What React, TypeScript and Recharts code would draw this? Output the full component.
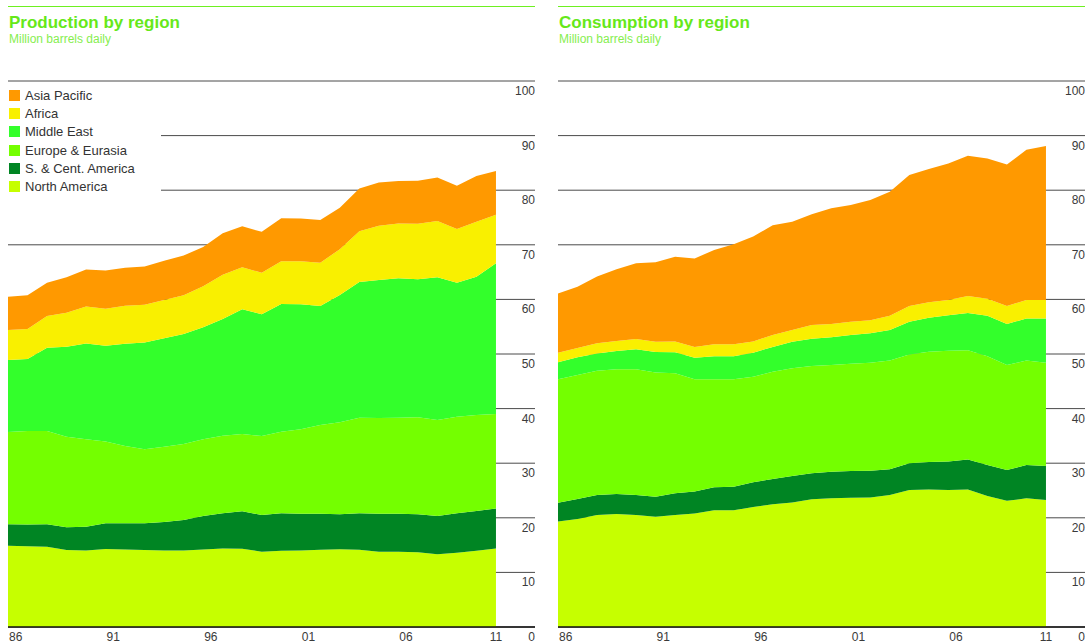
import {
  Area,
  AreaChart,
  CartesianGrid,
  Legend,
  XAxis,
  YAxis,
} from "recharts";

// years on the x axis
const years = [
  1986, 1987, 1988, 1989, 1990, 1991, 1992, 1993, 1994, 1995, 1996, 1997, 1998,
  1999, 2000, 2001, 2002, 2003, 2004, 2005, 2006, 2007, 2008, 2009, 2010, 2011,
];
const xTicks = [1986, 1991, 1996, 2001, 2006, 2011];
const yTicks = [0, 10, 20, 30, 40, 50, 60, 70, 80, 90, 100];

// production, million barrels daily
const prodNA = [14.9, 14.8, 14.7, 14.1, 14.0, 14.3, 14.2, 14.1, 14.0, 14.0, 14.2, 14.4, 14.35, 13.8, 13.97, 14.0, 14.16, 14.22, 14.16, 13.8, 13.8, 13.68, 13.32, 13.6, 13.97, 14.4];
const prodSCA = [3.9, 3.96, 4.1, 4.15, 4.38, 4.69, 4.79, 4.89, 5.23, 5.6, 6.13, 6.42, 6.84, 6.7, 6.85, 6.76, 6.6, 6.42, 6.66, 6.96, 6.96, 6.96, 7.01, 7.22, 7.28, 7.3];
const prodEU = [16.9, 17.14, 17.1, 16.6, 16.0, 15.0, 14.16, 13.55, 13.77, 13.9, 14.04, 14.22, 14.16, 14.48, 14.95, 15.44, 16.24, 16.86, 17.52, 17.52, 17.58, 17.76, 17.57, 17.7, 17.58, 17.3];
const prodME = [13.2, 13.18, 15.26, 16.48, 17.53, 17.5, 18.75, 19.56, 19.9, 20.16, 20.53, 21.36, 22.85, 22.29, 23.39, 22.9, 21.8, 23.3, 24.86, 25.27, 25.52, 25.27, 26.14, 24.54, 25.33, 27.6];
const prodAF = [5.5, 5.5, 5.8, 6.23, 6.77, 6.8, 6.95, 6.93, 7.0, 7.1, 7.5, 8.1, 7.7, 7.6, 7.84, 7.87, 7.9, 8.4, 9.3, 9.95, 10.04, 10.2, 10.3, 9.84, 10.04, 8.9];
const prodAP = [6.1, 6.2, 6.1, 6.5, 6.8, 7.0, 6.95, 7.0, 7.2, 7.3, 7.2, 7.6, 7.5, 7.5, 7.85, 7.83, 7.84, 7.6, 7.8, 7.9, 7.8, 7.84, 8.0, 7.93, 8.4, 8.0];

// consumption, million barrels daily
const consNA = [19.3, 19.78, 20.5, 20.7, 20.5, 20.2, 20.5, 20.8, 21.4, 21.36, 22.0, 22.47, 22.8, 23.4, 23.56, 23.68, 23.7, 24.18, 25.1, 25.2, 25.1, 25.2, 23.99, 23.1, 23.56, 23.26];
const consSCA = [3.47, 3.66, 3.68, 3.66, 3.68, 3.67, 3.99, 4.0, 4.2, 4.34, 4.5, 4.63, 4.86, 4.75, 4.89, 4.89, 4.9, 4.7, 4.88, 5.0, 5.2, 5.5, 5.68, 5.65, 6.11, 6.24];
const consEU = [22.59, 22.71, 22.76, 22.84, 23.02, 22.73, 21.97, 20.56, 19.76, 19.66, 19.35, 19.66, 19.74, 19.65, 19.55, 19.63, 19.8, 19.92, 19.92, 20.2, 20.3, 20.0, 19.93, 19.25, 19.13, 18.9];
const consME = [3.14, 3.25, 3.16, 3.35, 3.66, 3.77, 3.84, 3.94, 4.24, 4.24, 4.39, 4.54, 4.85, 5.0, 5.05, 5.3, 5.4, 5.6, 6.0, 6.25, 6.5, 6.8, 7.4, 7.5, 7.7, 8.1];
const consAF = [1.74, 1.7, 1.86, 1.85, 1.89, 1.88, 2.0, 2.0, 2.2, 2.2, 2.06, 2.2, 2.15, 2.5, 2.45, 2.4, 2.4, 2.6, 2.9, 2.85, 2.8, 3.1, 3.1, 3.3, 3.4, 3.4];
const consAP = [10.86, 11.2, 12.24, 13.1, 13.85, 14.55, 15.5, 16.2, 17.25, 18.3, 19.2, 20.1, 19.8, 20.3, 21.2, 21.4, 22.0, 22.7, 24.0, 24.4, 25.0, 25.7, 25.7, 25.9, 27.5, 28.2];

// bottom of the stack first
const series = [
  { key: "na", name: "North America", color: "#c6ff00" },
  { key: "sca", name: "S. & Cent. America", color: "#008523" },
  { key: "eu", name: "Europe & Eurasia", color: "#74ff00" },
  { key: "me", name: "Middle East", color: "#33ff2b" },
  { key: "af", name: "Africa", color: "#f9f000" },
  { key: "ap", name: "Asia Pacific", color: "#ff9900" },
];

const production = years.map((year, i) => ({
  year,
  na: prodNA[i],
  sca: prodSCA[i],
  eu: prodEU[i],
  me: prodME[i],
  af: prodAF[i],
  ap: prodAP[i],
}));

const consumption = years.map((year, i) => ({
  year,
  na: consNA[i],
  sca: consSCA[i],
  eu: consEU[i],
  me: consME[i],
  af: consAF[i],
  ap: consAP[i],
}));

const FONT = "'Liberation Sans', Arial, Helvetica, sans-serif";
const PLOT_RIGHT = 535;

const XTick = (props: any) => {
  const { x, payload } = props;
  const v = payload.value as number;
  const last = v === xTicks[xTicks.length - 1];
  return (
    <text
      x={last ? x : x + 1}
      y={641}
      textAnchor={last ? "middle" : "start"}
      fontSize={12}
      fontFamily={FONT}
      fill="#3a3a3a"
    >
      {String(v % 100).padStart(2, "0")}
    </text>
  );
};

const YTick = (props: any) => {
  const { y, payload } = props;
  return (
    <text
      x={PLOT_RIGHT}
      y={y + 14}
      textAnchor="end"
      fontSize={12}
      fontFamily={FONT}
      fill="#3a3a3a"
    >
      {payload.value}
    </text>
  );
};

const LegendBox = () => (
  <div style={{ background: "#fff", width: "100%", height: "100%", fontFamily: FONT }}>
    {[...series].reverse().map((s, i) => (
      <div
        key={s.key}
        style={{
          position: "absolute",
          left: 1,
          top: 4 + i * 18.2,
          height: 11,
          display: "flex",
          alignItems: "center",
          whiteSpace: "nowrap",
        }}
      >
        <span style={{ width: 11, height: 11, background: s.color, display: "inline-block" }} />
        <span style={{ marginLeft: 5, fontSize: 13, color: "#333" }}>{s.name}</span>
      </div>
    ))}
  </div>
);

function Panel({
  left,
  width,
  title,
  data,
  showLegend,
}: {
  left: number;
  width: number;
  title: string;
  data: any[];
  showLegend?: boolean;
}) {
  return (
    <div style={{ position: "absolute", left, top: 0, width, height: 644 }}>
      <div
        style={{
          position: "absolute",
          left: 8,
          top: 6,
          width: 527,
          height: 0,
          borderTop: "1.5px solid #6ef020",
        }}
      />
      <div
        style={{
          position: "absolute",
          left: 9,
          top: 13.6,
          fontFamily: FONT,
          fontWeight: "bold",
          fontSize: 17,
          lineHeight: "17px",
          color: "#66e81a",
          whiteSpace: "nowrap",
        }}
      >
        {title}
      </div>
      <div
        style={{
          position: "absolute",
          left: 9,
          top: 32.8,
          fontFamily: FONT,
          fontSize: 12,
          lineHeight: "12px",
          color: "#86ee50",
          whiteSpace: "nowrap",
        }}
      >
        Million barrels daily
      </div>
      <AreaChart
        width={width}
        height={644}
        data={data}
        margin={{ top: 81, right: width - 8 - 527 - 2, left: 8, bottom: 0 }}
      >
        <CartesianGrid vertical={false} stroke="#4a4a4a" strokeWidth={1} />
        <XAxis
          dataKey="year"
          type="number"
          domain={[1986, 2013]}
          ticks={xTicks}
          interval={0}
          height={17}
          tickLine={false}
          axisLine={{ stroke: "#111", strokeWidth: 1.5 }}
          tick={<XTick />}
        />
        <YAxis
          orientation="right"
          width={2}
          domain={[0, 100]}
          ticks={yTicks}
          interval={0}
          axisLine={false}
          tickLine={false}
          tick={<YTick />}
        />
        {series.map((s) => (
          <Area
            key={s.key}
            dataKey={s.key}
            name={s.name}
            type="linear"
            stackId="1"
            stroke="none"
            fill={s.color}
            fillOpacity={1}
            isAnimationActive={false}
          />
        ))}
        {showLegend && (
          <Legend
            layout="vertical"
            align="center"
            verticalAlign="middle"
            content={<LegendBox />}
            wrapperStyle={{ left: 8, top: 86, width: 153, height: 112 }}
          />
        )}
      </AreaChart>
    </div>
  );
}

export default function App() {
  return (
    <div style={{ position: "absolute", left: 0, top: 0, width: 1087, height: 644, background: "#fff" }}>
      <Panel left={0} width={545} title="Production by region" data={production} showLegend />
      <Panel left={550} width={537} title="Consumption by region" data={consumption} />
    </div>
  );
}
